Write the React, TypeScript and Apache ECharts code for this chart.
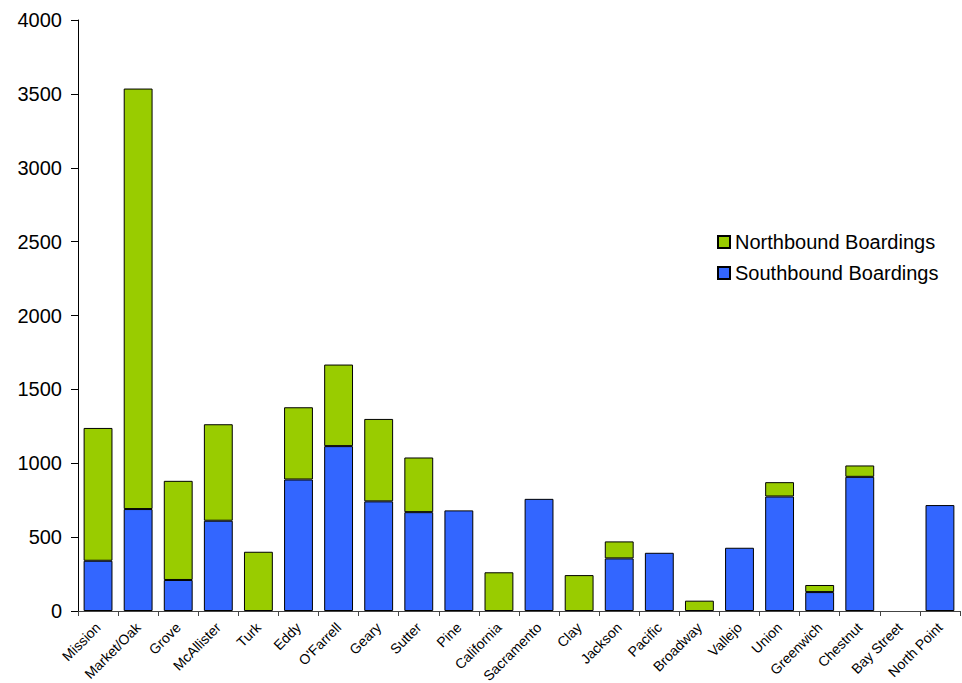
import React, { useEffect, useRef } from "react";
import * as echarts from "echarts";

const categories = [
  "Mission", "Market/Oak", "Grove", "McAllister", "Turk", "Eddy", "O'Farrell",
  "Geary", "Sutter", "Pine", "California", "Sacramento", "Clay", "Jackson",
  "Pacific", "Broadway", "Vallejo", "Union", "Greenwich", "Chestnut",
  "Bay Street", "North Point",
];

const southbound = [340, 690, 210, 611, 0, 890, 1116, 742, 669, 681, 0, 759, 0, 356, 394, 0, 428, 775, 128, 908, 0, 717];
const northbound = [899, 2846, 671, 653, 401, 489, 552, 558, 370, 0, 262, 0, 243, 115, 0, 70, 0, 97, 48, 77, 0, 0];

const yTicks = { min: 0, max: 4000, interval: 500 };

const FONT = "'Liberation Sans', Arial, sans-serif";

export default function App() {
  const ref = useRef<HTMLDivElement>(null);
  useEffect(() => {
    if (!ref.current) return;
    const chart = echarts.init(ref.current, undefined, { renderer: "svg" });
    const nz = (arr: number[]) => arr.map((v) => (v === 0 ? null : v));
    chart.setOption({
      animation: false,
      textStyle: { fontFamily: FONT },
      grid: {
        left: 78,
        right: 2,
        top: 20,
        bottom: 72,
        containLabel: false,
        outerBoundsMode: "none",
      },
      legend: {
        orient: "vertical",
        left: 712,
        top: 227,
        itemWidth: 12,
        itemHeight: 12,
        itemGap: 11,
        icon: "rect",
        data: ["Northbound Boardings", "Southbound Boardings"],
        textStyle: { fontFamily: FONT, fontSize: 20, color: "#000" },
      },
      xAxis: {
        type: "category",
        data: categories,
        axisLine: { lineStyle: { color: "#444", width: 1 } },
        axisTick: { show: true, length: 5, lineStyle: { color: "#444" } },
        axisLabel: {
          rotate: 45,
          interval: 0,
          fontSize: 14,
          color: "#000",
          fontFamily: FONT,
          margin: 14,
        },
      },
      yAxis: {
        type: "value",
        min: yTicks.min,
        max: yTicks.max,
        interval: yTicks.interval,
        splitLine: { show: false },
        axisLine: { show: true, lineStyle: { color: "#000", width: 1 } },
        axisTick: { show: true, length: 7, lineStyle: { color: "#000" } },
        axisLabel: {
          fontSize: 20,
          color: "#000",
          fontFamily: FONT,
          margin: 16,
          formatter: (v: number) => String(v),
        },
      },
      series: [
        {
          name: "Southbound Boardings",
          type: "bar",
          stack: "total",
          data: nz(southbound),
          barCategoryGap: "28%",
          itemStyle: { color: "#3366FF", borderColor: "#000", borderWidth: 1 },
        },
        {
          name: "Northbound Boardings",
          type: "bar",
          stack: "total",
          data: nz(northbound),
          barCategoryGap: "28%",
          itemStyle: { color: "#99CC00", borderColor: "#000", borderWidth: 1 },
        },
      ],
    });
    return () => chart.dispose();
  }, []);
  return <div ref={ref} style={{ width: 962, height: 683, position: "absolute", left: 0, top: 0 }} />;
}
